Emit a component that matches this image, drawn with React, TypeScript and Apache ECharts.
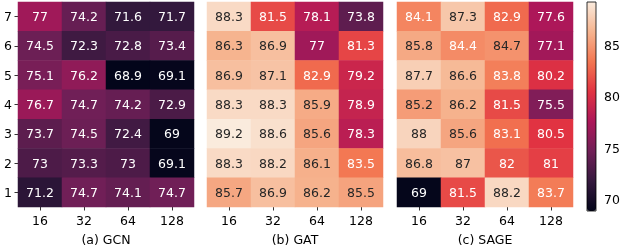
import React, { useEffect, useRef } from "react";
import * as echarts from "echarts";

const hiddenDims = ["16", "32", "64", "128"];
const layers = ["1", "2", "3", "4", "5", "6", "7"];
const panelTitles = ["(a) GCN", "(b) GAT", "(c) SAGE"];

// rows listed from layer 7 (top) down to layer 1 (bottom)
const gcnValues = [
  [77, 74.2, 71.6, 71.7],
  [74.5, 72.3, 72.8, 73.4],
  [75.1, 76.2, 68.9, 69.1],
  [76.7, 74.7, 74.2, 72.9],
  [73.7, 74.5, 72.4, 69],
  [73, 73.3, 73, 69.1],
  [71.2, 74.7, 74.1, 74.7],
];
const gatValues = [
  [88.3, 81.5, 78.1, 73.8],
  [86.3, 86.9, 77, 81.3],
  [86.9, 87.1, 82.9, 79.2],
  [88.3, 88.3, 85.9, 78.9],
  [89.2, 88.6, 85.6, 78.3],
  [88.3, 88.2, 86.1, 83.5],
  [85.7, 86.9, 86.2, 85.5],
];
const sageValues = [
  [84.1, 87.3, 82.9, 77.6],
  [85.8, 84.4, 84.7, 77.1],
  [87.7, 86.6, 83.8, 80.2],
  [85.2, 86.2, 81.5, 75.5],
  [88, 85.6, 83.1, 80.5],
  [86.8, 87, 82, 81],
  [69, 81.5, 88.2, 83.7],
];
const colorbarTicks = [70, 75, 80, 85];
const vMin = 68.9;
const vMax = 89.2;

const rocket = [
  "#03051a",
  "#35193e",
  "#701f57",
  "#ad1759",
  "#e13342",
  "#f37651",
  "#f6b48f",
  "#faebdd",
];

const FONT = "DejaVu Sans";
const FS = 12.5;

function buildData(rows: number[][]) {
  const out: any[] = [];
  const n = rows.length;
  rows.forEach((row, ri) => {
    const y = n - 1 - ri;
    row.forEach((v, x) => {
      out.push({
        value: [x, y, v],
        label: { color: v < 84.55 ? "#ffffff" : "#262626" },
      });
    });
  });
  return out;
}

export default function App() {
  const ref = useRef<HTMLDivElement>(null);
  useEffect(() => {
    if (!ref.current) return;
    const chart = echarts.init(ref.current, null, { renderer: "svg" });
    const lefts = [18, 207, 397];
    const gridW = 176;
    const gridTop = 2;
    const gridH = 209;
    const all = [gcnValues, gatValues, sageValues];

    const grids: any[] = lefts.map((l) => ({
      left: l,
      top: gridTop,
      width: gridW,
      height: gridH,
    }));
    grids.push({
      left: 587,
      top: gridTop,
      width: 9,
      height: gridH,
      show: true,
      borderColor: "#000",
      borderWidth: 0.8,
      backgroundColor: "transparent",
      z: 10,
    });

    const xAxes: any[] = lefts.map((_, i) => ({
      type: "category",
      gridIndex: i,
      data: hiddenDims,
      axisLine: { show: false },
      axisTick: { show: true, alignWithLabel: true, length: 3.5, lineStyle: { color: "#000", width: 0.8 } },
      axisLabel: { color: "#000", fontFamily: FONT, fontSize: FS, margin: 7 },
      name: panelTitles[i],
      nameLocation: "middle",
      nameGap: 26,
      nameTextStyle: { color: "#000", fontFamily: FONT, fontSize: FS },
      splitLine: { show: false },
    }));
    xAxes.push({ type: "value", gridIndex: 3, show: false, min: 0, max: 1 });

    const yAxes: any[] = lefts.map((_, i) => ({
      type: "category",
      gridIndex: i,
      data: layers,
      axisLine: { show: false },
      axisTick: { show: i === 0, alignWithLabel: true, length: 3.5, lineStyle: { color: "#000", width: 0.8 } },
      axisLabel: { show: i === 0, color: "#000", fontFamily: FONT, fontSize: FS, margin: 6 },
      splitLine: { show: false },
    }));
    yAxes.push({
      type: "value",
      gridIndex: 3,
      position: "right",
      min: vMin,
      max: vMax,
      axisLine: { show: false },
      splitLine: { show: false },
      axisTick: { show: true, length: 3.5, lineStyle: { color: "#000", width: 0.8 }, customValues: colorbarTicks },
      axisLabel: { color: "#000", fontFamily: FONT, fontSize: FS, margin: 8, customValues: colorbarTicks },
    });

    const series: any[] = all.map((rows, i) => ({
      type: "heatmap",
      xAxisIndex: i,
      yAxisIndex: i,
      data: buildData(rows),
      label: {
        show: true,
        fontFamily: FONT,
        fontSize: FS,
        formatter: (p: any) => String(p.value[2]),
      },
      itemStyle: { borderWidth: 0 },
      emphasis: { disabled: true },
    }));

    chart.setOption({
      animation: false,
      grid: grids,
      xAxis: xAxes,
      yAxis: yAxes,
      visualMap: {
        type: "continuous",
        min: vMin,
        max: vMax,
        calculable: false,
        orient: "vertical",
        left: 587,
        top: gridTop,
        itemWidth: 9,
        itemHeight: gridH,
        padding: 0,
        seriesIndex: [0, 1, 2],
        inRange: { color: rocket },
        text: ["", ""],
        textStyle: { fontSize: 0 },
      },
      series,
    });
    return () => chart.dispose();
  }, []);
  return (
    <div
      ref={ref}
      style={{ position: "fixed", left: 0, top: 0, width: 623, height: 251 }}
    />
  );
}
